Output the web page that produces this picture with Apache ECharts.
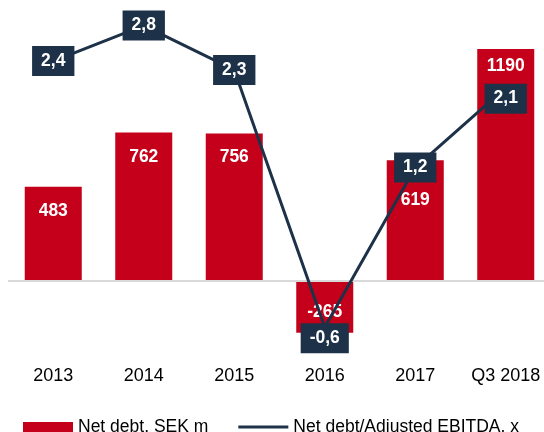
<!DOCTYPE html>
<html>
<head>
<meta charset="utf-8">
<script src="https://cdn.jsdelivr.net/npm/echarts@6/dist/echarts.min.js"></script>
<style>
  html, body { margin: 0; padding: 0; background: #fff; }
  #chart { width: 544px; height: 432px; }
</style>
</head>
<body>
<div id="chart"></div>
<script>
const categories = ['2013', '2014', '2015', '2016', '2017', 'Q3 2018'];
const netDebt = [483, 762, 756, -265, 619, 1190];
const leverage = [2.4, 2.8, 2.3, -0.6, 1.2, 2.1];

// label nudges (px), styling only
const barLabelShift = [-23, -50, -50, 5, -21, -99];
const lineLabelShift = [0, 0, 0, 11, 0, 11];

const RED = '#C5001A';
const NAVY = '#1D3248';
const FONT = "'Liberation Sans', Arial, sans-serif";

const fmt = v => v.toFixed(1).replace('.', ',');

const chart = echarts.init(document.getElementById('chart'));
chart.setOption({
  animation: false,
  textStyle: { fontFamily: FONT },
  grid: { left: 8, width: 543, top: 10, bottom: 72, outerBoundsMode: 'none' },
  legend: {
    left: 18,
    top: 413,
    itemWidth: 50,
    itemHeight: 10,
    itemGap: 30,
    textStyle: { fontSize: 17.5, color: '#000', fontFamily: FONT, padding: [7, 0, 0, 0] },
    data: [
      { name: 'Net debt, SEK m', icon: 'rect' },
      { name: 'Net debt/Adjusted EBITDA, x', icon: 'path://M0 0H50V3H0Z', itemStyle: { color: NAVY } }
    ]
  },
  xAxis: {
    type: 'category',
    data: categories,
    axisLine: { show: false, onZero: false },
    axisTick: { show: false },
    axisLabel: { interval: 0, fontSize: 18, color: '#000', margin: 7, fontFamily: FONT }
  },
  yAxis: [
    { type: 'value', min: -405, max: 1390, show: false, splitLine: { show: false } },
    { type: 'value', min: -0.969, max: 2.975, show: false, splitLine: { show: false } }
  ],
  series: [
    {
      name: 'Net debt, SEK m',
      type: 'bar',
      barWidth: '63%',
      itemStyle: { color: RED },
      data: netDebt.map((v, i) => ({
        value: v,
        label: { offset: [0, barLabelShift[i]] }
      })),
      label: {
        show: true,
        position: 'inside',
        color: '#fff',
        fontWeight: 'bold',
        fontSize: 17.5,
        fontFamily: FONT
      },
      markLine: {
        silent: true,
        symbol: 'none',
        label: { show: false },
        lineStyle: { color: '#D9D9D9', width: 2, type: 'solid' },
        data: [{ yAxis: 0 }]
      },
      z: 2
    },
    {
      name: 'Net debt/Adjusted EBITDA, x',
      type: 'line',
      yAxisIndex: 1,
      symbol: 'circle',
      symbolSize: 0,
      itemStyle: { color: NAVY },
      lineStyle: { color: NAVY, width: 3 },
      data: leverage.map((v, i) => ({
        value: v,
        label: { offset: [0, lineLabelShift[i]] }
      })),
      label: {
        show: true,
        position: 'inside',
        formatter: p => fmt(p.value),
        color: '#fff',
        fontWeight: 'bold',
        fontSize: 17.5,
        lineHeight: 18,
        fontFamily: FONT,
        backgroundColor: NAVY,
        padding: [6, 9]
      },
      z: 5
    }
  ]
});
</script>
</body>
</html>
